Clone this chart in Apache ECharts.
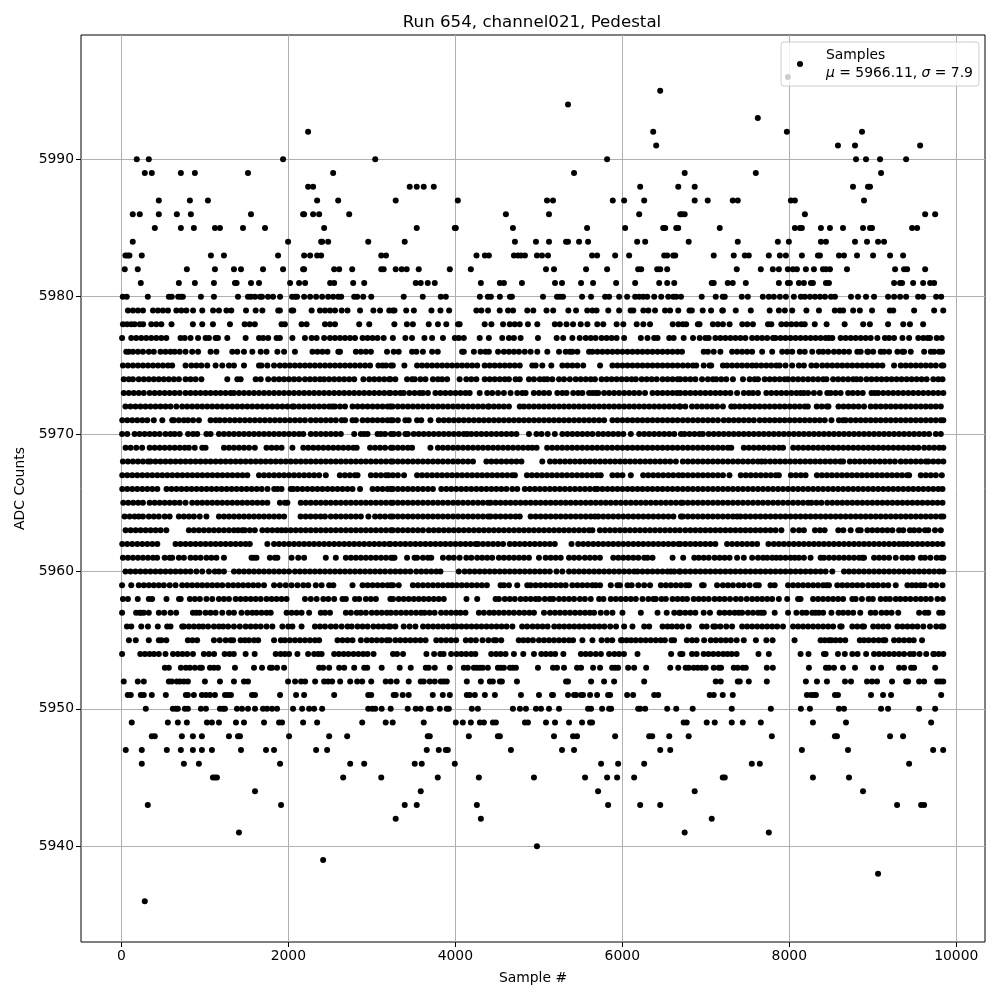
<!DOCTYPE html>
<html><head><meta charset="utf-8">
<style>html,body{margin:0;padding:0;background:#fff}#c{width:1000px;height:1000px}</style>
<script src="https://cdn.jsdelivr.net/npm/echarts@6/dist/echarts.min.js"></script>
</head><body><div id="c"></div>
<script>
const xTicks=[0,2000,4000,6000,8000,10000];
const yTicks=[5940,5950,5960,5970,5980,5990];
const s5936=[281];
const s5938=[9063];
const s5939=[2417];
const s5940=[4978];
const s5941=[1409,6747,7755];
const s5942=[3286,4306,7071];
const s5943=[317,1913,3394,3538,4258,5830,6214,6454,9291,9579,9615];
const s5944=[1601,3586,5710,6867,8883];
const s5945=[1097,1121,1145,2657,3113,3790,4282,4942,5554,5818,5938,6142,7203,7227,8283,8715];
const s5946=[245,749,929,1901,2741,2909,3514,3598,3994,5746,5950,6262,7551,7647,9435];
const s5947=[53,245,545,713,857,965,1085,1433,1733,1829,2333,2465,3658,3802,3886,3910,4666,5278,5422,6454,6574,8151,8703,9723,9843];
const s5948=[365,401,725,857,965,1289,1397,1421,2009,2489,2705,3670,3694,4162,4510,4534,5182,5410,5458,5914,6322,6358,6562,6795,7791,8547,8571,9207,9363];
const s5949=[125,557,677,785,1025,1085,1169,1373,1469,1709,1889,1925,2177,2345,2885,3166,3250,3622,4006,4090,4186,4294,4342,4450,4486,4834,4870,5086,5194,5362,5518,5614,5638,6735,6771,7011,7107,7311,7443,7659,8283,8679,9699];
const s5950=[293,617,653,677,761,797,953,1013,1181,1217,1241,1385,1445,1517,1601,1697,1745,1805,1865,2057,2165,2249,2309,2405,2957,3005,3041,3118,3226,3430,3526,3586,3682,3706,3814,3898,3922,4198,4270,4690,4774,4846,4966,5026,5122,5242,5590,5626,5758,5842,5866,6190,6214,6274,6538,6646,6843,7311,7779,8139,8247,8595,8655,9099,9183,9555,9747];
const s5951=[77,113,233,269,365,533,773,797,869,965,1013,1061,1121,1241,1277,1313,1565,1601,1901,2093,2189,2549,2957,2993,3262,3286,3370,3442,3730,3850,3934,4138,4174,4234,4354,4474,4786,5002,5158,5170,5350,5422,5446,5506,5530,5614,5698,5830,5854,6058,6130,6382,6430,7047,7095,7203,7323,8211,8259,8295,8319,8547,8583,8979,9123,9219,9819];
const s5952=[29,197,269,569,605,665,701,749,797,1001,1181,1349,1469,1517,1997,2081,2153,2201,2321,2429,2477,2525,2621,2741,2825,2885,2993,3166,3226,3298,3442,3586,3622,3694,3754,3826,3862,3898,4138,4306,4414,4450,4534,4558,4738,5326,5350,5626,5782,5902,6262,7119,7179,7383,7407,7515,7731,8199,8331,8451,8667,8739,8931,8991,9051,9231,9399,9423,9555,9615,9771,9807,9844];
const s5953=[521,569,713,773,821,881,941,965,1061,1109,1157,1361,1589,1685,1781,1805,1865,1949,2369,2417,2489,2609,2669,2789,2909,2945,3118,3334,3466,3646,3682,3754,3934,4102,4150,4222,4258,4294,4330,4390,4510,4546,4582,4654,4690,4726,4990,5170,5218,5302,5458,5506,5650,5734,5878,5914,5950,6070,6142,6286,6574,6670,6759,6795,6855,6903,6951,6999,7095,7155,7183,7335,7383,7443,7479,7731,7803,8235,8439,8475,8535,8643,8787,9003,9099,9315,9375,9459,9495,9747];
const s5954=[9,227,283,338,391,449,529,619,677,733,789,858,988,1049,1111,1237,1296,1347,1489,1597,1849,1907,1958,2009,2109,2237,2309,2359,2399,2549,2606,2663,2719,2781,2839,2897,2949,3021,3254,3302,3374,3654,3746,3820,3860,3950,4016,4073,4130,4190,4240,4430,4488,4542,4602,4702,4814,4942,5030,5085,5142,5196,5294,5504,5561,5618,5683,5744,5842,5905,5962,6020,6182,6585,6695,6720,6835,6890,6975,7032,7090,7150,7209,7260,7310,7369,7631,7755,8135,8230,8415,8435,8583,8665,8755,8818,8920,9015,9075,9135,9195,9255,9315,9375,9445,9490,9560,9640,9725,9735,9790,9845];
const s5955=[91,173,329,449,480,539,797,852,908,1109,1179,1249,1309,1339,1429,1479,1529,1589,1639,1829,1911,1959,2019,2079,2139,2199,2259,2319,2369,2589,2649,2709,2769,2869,2939,2999,3059,3119,3179,3212,3282,3342,3402,3462,3522,3582,3644,3772,3830,3890,3950,4010,4126,4186,4246,4326,4397,4462,4488,4550,4760,4815,4870,4930,5002,5062,5122,5182,5242,5302,5362,5410,5522,5642,5752,5820,5880,5984,5999,6052,6105,6160,6220,6280,6340,6400,6460,6510,6590,6620,6773,6835,6890,6980,7060,7120,7180,7240,7300,7370,7455,7600,7725,7800,8063,8375,8425,8475,8505,8555,8610,8670,8845,8895,8950,9010,9070,9125,9150,9255,9315,9375,9435,9490,9590];
const s5956=[67,119,239,319,437,549,589,729,749,809,869,929,979,1039,1109,1169,1219,1279,1349,1419,1489,1549,1609,1669,1739,1809,1929,1999,2049,2159,2319,2379,2439,2509,2569,2639,2709,2759,2829,2889,2949,3019,3079,3139,3199,3222,3282,3382,3452,3522,3614,3674,3734,3794,3854,3914,3974,4014,4074,4134,4194,4254,4314,4374,4434,4494,4554,4614,4684,4800,4860,4925,4985,5045,5105,5185,5245,5305,5365,5425,5485,5545,5605,5665,5725,5785,5855,5925,6022,6122,6262,6322,6482,6542,6595,6655,6715,6795,6955,7010,7090,7115,7175,7245,7315,7435,7495,7555,7615,7675,7735,7795,7855,7925,8045,8105,8165,8225,8285,8345,8405,8465,8525,8610,8627,8755,8815,8875,8895,9005,9065,9125,9185,9295,9355,9415,9475,9535,9605,9685,9760,9820,9845];
const s5957=[9,177,218,238,269,329,449,513,589,657,857,897,937,1009,1069,1129,1209,1289,1349,1439,1509,1569,1619,1679,1739,1789,1979,2039,2099,2159,2249,2389,2439,2499,2689,2749,2819,2869,2929,2999,3059,3119,3179,3229,3290,3350,3410,3470,3530,3590,3632,3692,3752,3830,3890,3950,4010,4062,4122,4282,4342,4408,4462,4522,4582,4642,4702,4766,4826,4886,4942,5062,5134,5194,5254,5314,5374,5434,5494,5554,5612,5662,5742,5812,5882,6002,6222,6422,6532,6622,6682,6695,6755,6815,6875,6975,7050,7165,7225,7285,7345,7395,7435,7505,7565,7625,7665,7695,7825,7985,8085,8155,8205,8275,8315,8355,8405,8505,8590,8645,8705,8765,8850,8975,9030,9105,9165,9225,9305,9555,9625,9665,9795,9835];
const s5958=[19,79,197,329,369,541,691,711,821,881,941,1019,1089,1169,1229,1289,1369,1429,1489,1549,1609,1669,1739,1799,1859,1919,1979,2199,2269,2339,2419,2479,2549,2649,2689,2799,2849,2929,2989,3049,3222,3254,3322,3382,3442,3502,3562,3622,3682,3742,3802,3862,4134,4262,4482,4522,4592,4652,4712,4782,4842,4902,4962,5002,5072,5132,5172,5242,5302,5362,5422,5492,5552,5622,5722,5774,5862,5922,5982,6042,6102,6162,6242,6312,6372,6402,6470,6522,6602,6662,6722,6775,6855,6915,6975,7035,7105,7165,7225,7290,7360,7420,7490,7555,7615,7675,7735,7795,7875,7975,8105,8135,8285,8345,8405,8465,8525,8585,8645,8755,8795,8870,8950,9000,9095,9155,9205,9275,9330,9390,9450,9515,9575,9635,9695,9775,9840];
const s5959=[9,119,209,269,329,389,449,509,579,649,729,789,849,909,969,1029,1089,1149,1209,1279,1339,1399,1459,1519,1579,1639,1709,1829,1899,1969,2039,2109,2179,2239,2329,2399,2489,2539,2769,2889,2949,3009,3069,3129,3189,3229,3254,3322,3492,3552,3612,3672,3732,3792,3852,3912,3962,4018,4078,4138,4198,4258,4318,4378,4542,4582,4642,4742,4862,4902,4962,5022,5082,5142,5202,5262,5322,5402,5462,5522,5582,5642,5682,5734,5862,5942,5972,6062,6112,6192,6262,6332,6462,6522,6582,6642,6702,6762,6800,6955,6975,7135,7205,7265,7325,7395,7455,7525,7600,7635,7775,7825,7985,8045,8105,8165,8225,8285,8345,8405,8445,8475,8575,8635,8695,8755,8815,8875,8945,9005,9060,9125,9185,9275,9415,9470,9520,9575,9620,9700,9760,9835];
const s5960=[49,109,169,229,289,349,409,469,529,589,649,709,769,829,899,969,1049,1119,1169,1229,1349,1409,1469,1529,1589,1649,1709,1769,1829,1889,1949,2009,2079,2139,2199,2259,2319,2379,2439,2499,2559,2619,2679,2739,2799,2859,2919,2979,3039,3099,3159,3222,3282,3342,3402,3462,3532,3592,3652,3712,3772,3822,4042,4112,4172,4232,4292,4352,4412,4472,4532,4592,4652,4712,4772,4832,4892,4952,5012,5072,5132,5212,5282,5362,5422,5482,5542,5602,5662,5722,5782,5842,5902,5962,6022,6082,6142,6182,6242,6302,6362,6422,6482,6542,6582,6622,6682,6695,6755,6815,6875,6935,6995,7055,7115,7175,7235,7295,7355,7415,7475,7535,7595,7655,7715,7775,7835,7895,7955,8015,8075,8135,8195,8255,8315,8375,8435,8515,8655,8715,8775,8835,8895,8955,9015,9075,9135,9195,9255,9315,9375,9435,9495,9555,9615,9675,9735,9795,9845];
const s5961=[19,79,139,199,259,319,379,429,519,579,609,689,749,829,889,949,1019,1079,1139,1229,1559,1589,1619,1779,1839,1869,2039,2119,2189,2449,2569,2689,2749,2809,2869,2929,2989,3049,3109,3169,3229,3252,3272,3422,3512,3542,3612,3672,3712,3852,3922,3982,4052,4132,4192,4262,4322,4382,4442,4522,4582,4642,4702,4762,4822,4882,5002,5082,5142,5202,5262,5362,5422,5482,5552,5612,5672,5732,5892,5952,6012,6072,6132,6192,6262,6302,6362,6602,6729,6862,6915,6975,7035,7105,7165,7225,7285,7375,7455,7555,7625,7685,7735,7795,7845,7895,7955,8015,8065,8115,8175,8255,8375,8415,8475,8535,8595,8655,8715,8775,8835,8875,8895,9015,9075,9135,9195,9275,9355,9415,9475,9575,9625,9690,9765,9820,9845];
const s5962=[11,71,131,191,251,311,371,431,649,709,769,829,889,949,1009,1069,1129,1189,1249,1309,1369,1429,1489,1539,1749,1829,1889,1949,2009,2069,2129,2189,2249,2309,2369,2429,2489,2549,2609,2669,2729,2789,2849,2909,2969,3029,3089,3149,3209,3222,3282,3342,3402,3462,3522,3582,3642,3702,3762,3822,3882,3942,4002,4062,4122,4182,4242,4272,4332,4392,4452,4512,4572,4652,4712,4772,4832,4892,4952,5012,5072,5132,5192,5392,5472,5532,5592,5652,5712,5772,5832,5892,5952,6012,6072,6132,6192,6252,6312,6372,6432,6492,6552,6612,6672,6695,6755,6815,6875,6935,6995,7055,7115,7255,7315,7375,7435,7495,7555,7615,7750,7815,7875,7935,7995,8055,8115,8175,8235,8295,8355,8415,8475,8535,8595,8655,8715,8775,8835,8895,8955,9015,9075,9135,9195,9255,9315,9365,9415,9475,9535,9595,9655,9715,9775,9835];
const s5963=[51,111,171,231,291,351,411,471,539,809,869,929,989,1049,1109,1169,1229,1289,1349,1399,1449,1479,1539,1599,1689,1749,1809,1869,1919,1969,2029,2089,2149,2209,2269,2329,2389,2449,2509,2569,2629,2689,2749,2809,2869,2929,2989,3049,3109,3169,3229,3252,3312,3372,3432,3492,3552,3612,3682,3742,3802,3862,3922,3982,4042,4102,4162,4222,4282,4342,4402,4462,4522,4582,4642,4702,4762,4822,4882,4942,5002,5062,5122,5182,5242,5302,5362,5422,5482,5542,5602,5642,5732,5792,5852,5912,5972,6032,6092,6152,6212,6272,6332,6392,6452,6512,6572,6632,6690,6755,6815,6875,6935,6995,7055,7115,7175,7235,7295,7355,7415,7475,7535,7595,7655,7715,7775,7835,7905,8047,8117,8175,8307,8367,8423,8587,8647,8735,8825,8855,8935,8995,9055,9115,9175,9235,9315,9365,9445,9495,9555,9625,9665,9745,9815];
const s5964=[39,99,159,209,259,329,389,449,519,579,689,749,809,869,939,1019,1169,1229,1289,1349,1409,1469,1529,1589,1649,1709,1769,1829,1889,1949,2147,2207,2267,2327,2387,2439,2509,2569,2629,2689,2749,2809,2869,2959,3039,3099,3159,3222,3252,3312,3372,3432,3492,3552,3612,3672,3732,3792,3852,3912,3972,4032,4092,4152,4212,4272,4332,4392,4422,4482,4542,4602,4662,4722,4772,4902,4962,5022,5082,5142,5202,5262,5322,5382,5442,5502,5562,5622,5672,5712,5772,5832,5892,5952,6012,6072,6132,6192,6252,6312,6372,6432,6492,6552,6612,6702,6725,6785,6845,6905,6965,7025,7085,7145,7205,7265,7325,7375,7415,7475,7535,7595,7655,7715,7775,7835,7895,7955,8015,8075,8135,8195,8255,8315,8375,8435,8495,8555,8615,8675,8735,8795,8855,8915,8975,9035,9095,9155,9215,9275,9335,9395,9455,9515,9575,9635,9695,9755,9815,9845];
const s5965=[23,83,143,203,259,339,399,459,519,579,639,699,769,849,909,969,1029,1089,1149,1209,1269,1329,1389,1449,1509,1569,1629,1689,1749,1899,1959,1989,2149,2209,2269,2329,2389,2449,2509,2569,2629,2689,2749,2809,2869,2929,2989,3049,3109,3169,3229,3252,3312,3372,3432,3492,3552,3612,3672,3732,3792,3852,3912,3972,4032,4092,4152,4212,4272,4332,4392,4422,4482,4542,4602,4662,4722,4782,4842,4902,4962,5022,5082,5142,5202,5262,5322,5382,5442,5502,5562,5622,5682,5742,5802,5862,5922,5982,6042,6102,6162,6222,6282,6342,6402,6462,6522,6582,6642,6702,6725,6785,6845,6905,6965,7025,7085,7145,7205,7265,7325,7385,7445,7505,7565,7625,7685,7745,7805,7865,7925,7985,8045,8105,8165,8225,8265,8325,8385,8455,8515,8575,8635,8695,8755,8815,8875,8935,8995,9055,9115,9175,9235,9295,9355,9415,9475,9535,9595,9655,9715,9775,9835];
const s5966=[11,71,131,191,251,311,371,431,541,601,661,721,781,841,901,961,1021,1081,1141,1201,1261,1321,1381,1441,1501,1561,1621,1681,1751,1831,1871,1919,2029,2059,2109,2169,2229,2289,2349,2409,2469,2529,2589,2649,2709,2769,2859,3009,3069,3129,3189,3229,3252,3312,3372,3432,3492,3552,3612,3672,3732,3832,3892,3952,4012,4072,4132,4192,4252,4312,4372,4432,4492,4552,4612,4682,4742,4832,4892,4952,5012,5072,5132,5192,5252,5312,5372,5432,5492,5552,5612,5672,5702,5762,5822,5882,5942,6002,6062,6122,6182,6242,6302,6362,6422,6482,6542,6602,6662,6725,6785,6845,6905,6965,7025,7085,7145,7205,7265,7325,7385,7445,7505,7565,7625,7685,7745,7805,7865,7925,7985,8045,8105,8165,8225,8285,8345,8405,8465,8525,8585,8645,8705,8765,8825,8885,8945,9005,9065,9125,9185,9245,9305,9365,9425,9485,9545,9605,9665,9725,9785,9835];
const s5967=[11,71,131,191,251,311,371,431,491,551,611,671,731,791,851,911,971,1031,1091,1151,1211,1271,1331,1391,1451,1509,1649,1709,1769,1829,1889,1949,2009,2069,2129,2189,2249,2309,2369,2449,2617,2677,2737,2797,2829,2989,3049,3109,3169,3199,3252,3312,3386,3542,3602,3662,3722,3782,3842,3902,3962,4022,4082,4142,4202,4262,4322,4382,4442,4502,4562,4622,4682,4714,4858,4918,4978,5038,5098,5158,5218,5278,5338,5398,5458,5518,5578,5638,5698,5742,5882,5942,6002,6102,6250,6310,6370,6430,6490,6550,6610,6672,6725,6785,6845,6905,6965,7025,7085,7145,7205,7283,7419,7479,7539,7599,7659,7719,7779,7839,7875,8019,8079,8139,8195,8331,8391,8451,8511,8571,8631,8691,8751,8811,8871,8931,8991,9051,9111,9171,9231,9291,9351,9411,9435,9575,9635,9695,9755,9827];
const s5968=[19,79,139,199,259,319,349,409,469,529,589,649,709,769,829,889,949,1009,1069,1129,1189,1249,1309,1369,1429,1489,1549,1609,1669,1729,1789,1849,1909,1969,2029,2089,2149,2209,2269,2329,2389,2449,2509,2569,2629,2689,2749,2809,2869,2929,2989,3049,3109,3169,3229,3252,3312,3372,3432,3492,3552,3612,3672,3732,3792,3852,3912,3972,4032,4092,4152,4212,4372,4432,4492,4552,4612,4672,4732,4792,5042,5134,5194,5254,5314,5374,5434,5494,5554,5614,5674,5734,5794,5854,5914,5974,6034,6094,6154,6214,6274,6334,6394,6454,6514,6574,6642,6725,6785,6845,6905,6965,7025,7085,7145,7205,7265,7325,7385,7445,7505,7565,7625,7667,7711,7771,7831,7891,7951,8011,8071,8131,8191,8251,8311,8371,8431,8491,8551,8611,8645,8725,8785,8845,8905,8965,9025,9085,9145,9205,9265,9335,9395,9455,9515,9575,9635,9665,9725,9785,9845];
const s5969=[51,111,179,249,339,399,459,519,579,639,699,759,809,879,969,1009,1229,1289,1349,1409,1469,1529,1599,1739,1799,1859,1919,2049,2179,2239,2299,2359,2419,2479,2539,2599,2659,2719,2779,2819,2979,3039,3099,3159,3229,3252,3312,3372,3432,3482,3702,3792,3852,3912,3972,4032,4092,4152,4212,4272,4332,4392,4452,4512,4572,4632,4692,4752,4812,4872,4922,4974,5100,5160,5220,5280,5340,5400,5460,5520,5580,5640,5700,5760,5820,5880,5942,6002,6062,6122,6182,6242,6302,6362,6422,6482,6542,6602,6662,6725,6785,6845,6905,6965,7025,7085,7145,7205,7265,7305,7455,7515,7575,7635,7695,7755,7815,7875,7925,8047,8107,8167,8227,8287,8347,8407,8467,8527,8587,8647,8707,8767,8827,8887,8947,9007,9067,9127,9187,9247,9307,9367,9427,9487,9545,9615,9675,9735,9795,9845];
const s5970=[9,71,159,219,279,339,399,459,529,589,639,699,799,859,909,1019,1069,1169,1229,1289,1349,1409,1469,1529,1589,1649,1709,1769,1829,1889,1949,2009,2069,2129,2179,2269,2329,2389,2449,2509,2569,2629,2789,2869,2909,2949,3069,3109,3159,3229,3262,3322,3402,3432,3502,3562,3622,3682,3742,3802,3862,3922,3982,4042,4102,4142,4192,4252,4312,4372,4432,4492,4552,4612,4672,4732,4882,4972,5032,5106,5192,5282,5342,5402,5462,5522,5582,5642,5712,5772,5832,5892,5952,6012,6102,6202,6262,6322,6382,6442,6502,6562,6622,6702,6745,6805,6865,6925,6965,7035,7095,7155,7215,7275,7335,7395,7455,7515,7575,7635,7695,7755,7815,7875,7935,7995,8055,8115,8175,8235,8295,8355,8415,8475,8535,8595,8655,8715,8775,8835,8895,8955,9015,9075,9135,9195,9255,9315,9375,9435,9495,9555,9615,9675,9755,9815];
const s5971=[11,71,131,191,251,311,389,491,609,629,689,749,799,859,929,1069,1129,1179,1239,1299,1359,1419,1479,1539,1599,1659,1719,1779,1839,1899,1959,2019,2079,2139,2199,2269,2329,2389,2449,2509,2569,2639,2679,2769,2809,2889,2949,3009,3069,3129,3189,3229,3252,3312,3402,3442,3542,3592,3702,3802,3862,3922,3982,4042,4102,4162,4222,4282,4342,4402,4462,4522,4582,4642,4702,4762,4822,4882,4942,5002,5062,5122,5182,5242,5302,5362,5422,5482,5542,5602,5662,5722,5782,5882,5942,6002,6062,6122,6182,6242,6302,6362,6422,6482,6542,6602,6662,6725,6785,6845,6905,6965,7025,7085,7145,7215,7275,7335,7395,7455,7515,7575,7645,7705,7765,7825,7885,7945,8005,8065,8125,8185,8245,8305,8365,8425,8505,8595,8645,8675,8735,8795,8855,8915,8975,9035,9095,9155,9215,9275,9335,9395,9455,9515,9575,9635,9695,9755,9815,9845];
const s5972=[49,109,169,229,289,349,409,469,529,589,659,729,789,849,909,969,1029,1089,1149,1209,1269,1329,1389,1449,1509,1569,1629,1689,1749,1809,1869,1929,1989,2049,2069,2129,2189,2249,2309,2369,2429,2489,2529,2559,2619,2679,2769,2829,2889,2949,3009,3069,3129,3189,3222,3249,3312,3372,3432,3492,3552,3612,3672,3732,3792,3852,3912,3972,4032,4092,4152,4212,4272,4332,4392,4402,4462,4522,4582,4642,4772,4822,4882,4942,5002,5062,5122,5182,5242,5302,5362,5422,5482,5542,5602,5662,5722,5782,5842,5902,5962,6022,6082,6142,6202,6262,6322,6382,6442,6502,6562,6622,6682,6695,6755,6835,6895,6955,7015,7075,7135,7205,7305,7345,7405,7465,7525,7585,7645,7705,7765,7825,7885,7945,8005,8065,8125,8185,8222,8329,8389,8449,8469,8589,8649,8709,8769,8829,8895,8975,9035,9095,9155,9215,9275,9335,9395,9455,9515,9575,9635,9695,9755,9815];
const s5973=[29,89,149,209,269,339,399,459,519,579,639,699,769,829,889,949,1009,1069,1129,1189,1249,1309,1349,1409,1469,1529,1589,1649,1709,1769,1829,1889,1949,2009,2069,2129,2189,2249,2309,2369,2429,2489,2549,2609,2669,2729,2789,2849,2909,2969,3029,3089,3149,3209,3222,3282,3342,3382,3450,3512,3572,3612,3672,3762,3822,3882,3942,4002,4062,4122,4172,4292,4382,4442,4512,4582,4662,4742,4802,4842,4940,5002,5062,5122,5222,5282,5332,5412,5472,5522,5602,5642,5682,5712,5782,5842,5902,5962,6022,6082,6142,6202,6272,6362,6422,6482,6542,6602,6655,6695,6755,6815,6875,6935,6995,7055,7115,7175,7235,7295,7375,7455,7515,7565,7625,7725,7785,7845,7905,7965,8025,8085,8135,8175,8225,8295,8365,8455,8495,8555,8615,8705,8760,8820,8880,8985,9025,9065,9125,9185,9245,9305,9365,9425,9485,9545,9605,9665,9725,9785,9845];
const s5974=[29,89,139,209,269,329,389,449,509,569,629,689,769,829,889,959,1269,1389,1429,1609,1669,1759,1829,1889,1949,2009,2069,2129,2199,2259,2319,2379,2429,2489,2549,2609,2669,2729,2789,2899,2969,3029,3089,3149,3209,3222,3282,3422,3482,3514,3582,3642,3732,3792,3842,3902,4052,4132,4192,4252,4352,4412,4472,4532,4592,4642,4722,4772,4882,4942,5012,5062,5102,5162,5242,5302,5372,5442,5502,5562,5622,5672,5752,5812,5872,5932,5992,6052,6112,6162,6232,6292,6352,6412,6482,6542,6602,6662,6695,6755,6815,6875,6955,7025,7085,7125,7185,7245,7325,7445,7525,7585,7625,7705,7765,7825,7885,7945,7985,8045,8105,8165,8225,8285,8345,8405,8445,8525,8585,8645,8705,8765,8805,8855,8925,8985,9045,9105,9165,9225,9285,9345,9405,9465,9525,9585,9645,9725,9785,9835];
const s5975=[19,79,139,199,259,319,379,439,499,559,609,769,839,899,959,1029,1129,1209,1289,1349,1469,1649,1679,1749,1829,1899,1959,2019,2079,2139,2199,2259,2319,2379,2439,2499,2559,2619,2679,2739,2799,2859,2919,2979,3079,3129,3169,3229,3252,3390,3542,3602,3662,3722,3782,3842,3902,3962,4022,4082,4142,4202,4262,4352,4412,4472,4532,4592,4652,4712,4772,4922,4962,5042,5150,5282,5342,5402,5462,5532,5734,5882,5942,6002,6062,6122,6182,6242,6302,6362,6422,6482,6542,6602,6662,6725,6785,6845,6885,6975,7045,7065,7205,7255,7315,7375,7435,7495,7555,7605,7665,7725,7785,7845,7885,7955,8035,8115,8175,8265,8325,8395,8455,8515,8575,8635,8695,8755,8815,8875,8935,8995,9055,9115,9255,9335,9395,9455,9515,9575,9635,9695,9755,9825,9845];
const s5976=[59,89,139,199,259,329,389,469,529,589,639,699,769,849,919,1069,1139,1329,1389,1469,1569,1669,1739,1869,1949,2079,2289,2349,2409,2469,2619,2599,2809,2869,2929,2989,3182,3262,3322,3482,3534,3612,3722,3790,4102,4222,4082,4302,4402,4362,4512,4582,4642,4702,4762,4832,4902,4982,5102,5242,5372,5322,5402,5462,5602,5642,5702,5762,5822,5882,5942,6002,6062,6122,6182,6242,6302,6362,6422,6482,6542,6602,6662,6715,6975,7025,7095,7175,7315,7375,7435,7495,7555,7675,7795,7915,7975,8035,8125,8185,8275,8355,8405,8465,8535,8595,8655,8715,8815,8855,8935,8945,9005,9095,9135,9195,9295,9375,9355,9455,9615,9695,9735,9795,9830];
const s5977=[9,119,179,239,299,359,419,479,539,709,759,829,919,1009,1049,1129,1157,1269,1489,1649,1699,1759,1859,1899,2049,2199,2279,2339,2429,2499,2559,2619,2679,2739,2799,2889,2949,3009,3069,3142,3252,3402,3482,3630,3722,3852,3994,4042,4102,4292,4402,4562,4642,4702,4782,4990,5214,5292,5402,5490,5562,5622,5680,5752,5812,5872,5932,6022,6222,6302,6382,6422,6562,6615,6735,6847,6927,6995,7035,7115,7175,7235,7295,7355,7415,7475,7555,7615,7675,7735,7805,7835,7895,7955,8015,8075,8135,8195,8255,8315,8375,8435,8475,8515,8615,8675,8735,8795,8855,8915,8975,9055,9145,9195,9255,9355,9435,9545,9605,9685,9655,9765,9825];
const s5978=[19,69,119,159,221,261,359,419,479,601,857,969,1097,1301,1477,1537,1599,1919,1959,2159,2219,2439,2499,2559,2849,2969,3270,3420,3492,3682,3792,3892,4032,4052,4352,4432,4572,4652,4712,4772,4870,4982,5192,5252,5332,5410,5502,5582,5700,5772,5932,6012,6172,6252,6332,6604,6672,6725,6765,6905,6925,7085,7145,7205,7285,7437,7497,7565,7745,7785,7905,7965,8025,8085,8145,8185,8305,8447,8663,8885,8965,9183,9365,9445,9603];
const s5979=[79,139,199,259,379,439,499,559,659,719,779,859,969,1099,1169,1259,1317,1493,1609,1689,1879,1899,2039,2059,2279,2379,2439,2499,2559,2639,2709,2859,3019,3099,3209,3252,3272,3412,3504,3714,3822,3926,4252,4312,4392,4532,4632,4692,4862,4934,5092,5172,5354,5446,5580,5642,5692,5832,5962,6100,6132,6252,6312,6392,6512,6572,6670,6805,6833,6963,7063,7197,7205,7359,7539,7765,7875,7947,8035,8205,8355,8545,8605,8645,8765,8845,8991,9205,9245,9495,9735,9844];
const s5980=[17,65,317,569,605,681,713,737,953,1109,1397,1517,1553,1601,1661,1685,1757,1817,1901,2045,2081,2105,2189,2261,2333,2405,2477,2537,2597,2633,2789,2825,2897,2993,3382,3610,3826,3886,4294,4390,4426,4534,4654,4678,5050,5218,5254,5290,5518,5626,5794,5842,5962,6058,6154,6202,6250,6298,6382,6466,6550,6610,6646,6703,6951,7119,7203,7227,7431,7503,7683,7755,7815,7887,7959,8055,8139,8187,8247,8307,8367,8427,8499,8547,8739,8823,8919,9015,9183,9255,9327,9399,9543,9603,9759,9819];
const s5981=[233,689,881,1109,1361,1381,1553,1649,2021,2129,2201,2501,2549,2777,2909,3526,3586,3670,3754,4306,4534,4582,4798,5194,5278,5506,5650,5926,6154,6442,6538,6622,7071,7095,7263,7323,7479,7875,7983,8007,8115,8175,8259,8283,8439,8475,9255,9327,9351,9483,9603,9687,9735];
const s5982=[41,197,785,1121,1349,1433,1697,1937,2177,2189,2549,2609,2765,3113,3142,3286,3358,3418,3562,3934,4186,5086,5182,5566,5818,6190,6226,6418,6454,6538,7371,7659,7803,7875,7983,8043,8091,8199,8295,8403,8439,8487,8691,9267,9375,9411,9627];
const s5983=[49,77,97,245,1073,1229,1877,2189,2261,2345,2393,3113,3170,4254,4354,4402,4702,4750,4786,4834,4978,5038,5110,5638,5698,5914,6082,6502,6538,6610,6634,7095,7335,7467,7515,7755,7887,7959,8151,8343,8367,8595,8655,8811,9003,9207,9363];
const s5984=[137,1997,2393,2405,2477,2957,3394,4714,4966,5122,5326,5350,5482,5590,6178,6274,6795,7383,7863,7995,8379,8439,8787,8931,9063,9135];
const s5985=[401,713,869,1121,1181,1457,1721,2429,3538,3994,4006,4690,5578,6034,6490,6514,6646,6670,7167,8067,8127,8151,8379,8487,8643,8883,8967,8991,9471,9531];
const s5986=[137,221,449,665,833,1553,2177,2189,2297,2369,2729,4606,5122,6202,6694,6715,6747,8187,9627,9747];
const s5987=[449,821,1037,2345,2597,3286,4030,5098,5170,5886,6022,6262,6867,7023,7323,7383,8019,8067,8895];
const s5988=[2237,2297,3454,3538,3622,3742,6214,6670,6867,8763,8943,8967];
const s5989=[281,365,713,881,1517,2537,5422,6747,7599,9099];
const s5990=[185,329,1937,3041,5818,8799,8919,9087,9399];
const s5991=[6406,8583,8787,9567];
const s5992=[2237,6370,7971,8871];
const s5993=[7623];
const s5994=[5350];
const s5995=[6454];
const s5996=[7983];
const rows=[[5936,s5936],[5938,s5938],[5939,s5939],[5940,s5940],[5941,s5941],[5942,s5942],[5943,s5943],[5944,s5944],[5945,s5945],[5946,s5946],[5947,s5947],[5948,s5948],[5949,s5949],[5950,s5950],[5951,s5951],[5952,s5952],[5953,s5953],[5954,s5954],[5955,s5955],[5956,s5956],[5957,s5957],[5958,s5958],[5959,s5959],[5960,s5960],[5961,s5961],[5962,s5962],[5963,s5963],[5964,s5964],[5965,s5965],[5966,s5966],[5967,s5967],[5968,s5968],[5969,s5969],[5970,s5970],[5971,s5971],[5972,s5972],[5973,s5973],[5974,s5974],[5975,s5975],[5976,s5976],[5977,s5977],[5978,s5978],[5979,s5979],[5980,s5980],[5981,s5981],[5982,s5982],[5983,s5983],[5984,s5984],[5985,s5985],[5986,s5986],[5987,s5987],[5988,s5988],[5989,s5989],[5990,s5990],[5991,s5991],[5992,s5992],[5993,s5993],[5994,s5994],[5995,s5995],[5996,s5996]];
const pts=[];
rows.forEach(([v,xs])=>xs.forEach(x=>pts.push([x,v])));
const font='"DejaVu Sans"';
const ax=(name,ticks,min,max,gap)=>({type:'value',name,nameLocation:'middle',nameGap:gap,
  nameTextStyle:{color:'#000',fontFamily:font,fontSize:13.9},min,max,scale:true,
  axisLine:{show:false,onZero:false},
  axisTick:{show:true,length:5,customValues:ticks,lineStyle:{color:'#000',width:1}},
  axisLabel:{customValues:ticks,color:'#000',fontFamily:font,fontSize:13.9,margin:7,hideOverlap:false,formatter:v=>String(v)},
  splitLine:{show:true,lineStyle:{color:'#b0b0b0',width:1}}});
const chart=echarts.init(document.getElementById('c'),null,{renderer:'canvas'});
chart.setOption({animation:false,backgroundColor:'#fff',
  title:{text:'Run 654, channel021, Pedestal',left:527,top:9,textAlign:'center',textStyle:{color:'#000',fontFamily:font,fontSize:16.67,fontWeight:'normal'}},
  grid:{left:81,top:35,width:904,height:907,show:true,borderColor:'#000',borderWidth:1,backgroundColor:'#fff'},
  xAxis:ax('Sample #',xTicks,-483,10344,29),
  yAxis:ax('ADC Counts',yTicks,5933.03,5999.05,53),
  legend:{left:781,top:42,orient:'vertical',backgroundColor:'rgba(255,255,255,0.8)',borderColor:'#ccc',borderWidth:1,borderRadius:3,
    padding:[4,6,4,16],itemWidth:6,itemHeight:6,icon:'circle',
    formatter:()=>'Samples\n{i|μ} = 5966.11, {i|σ} = 7.9',
    textStyle:{color:'#000',fontFamily:font,fontSize:13.9,lineHeight:18,padding:[0,0,0,18],rich:{i:{fontStyle:'italic',fontFamily:font,fontSize:13.9,lineHeight:18,color:'#000'}}},
    data:['Samples']},
  series:[{name:'Samples',type:'scatter',data:pts,symbol:'circle',symbolSize:6,large:false,silent:true,itemStyle:{color:'#000',opacity:1},z:3}]
});
</script></body></html>
